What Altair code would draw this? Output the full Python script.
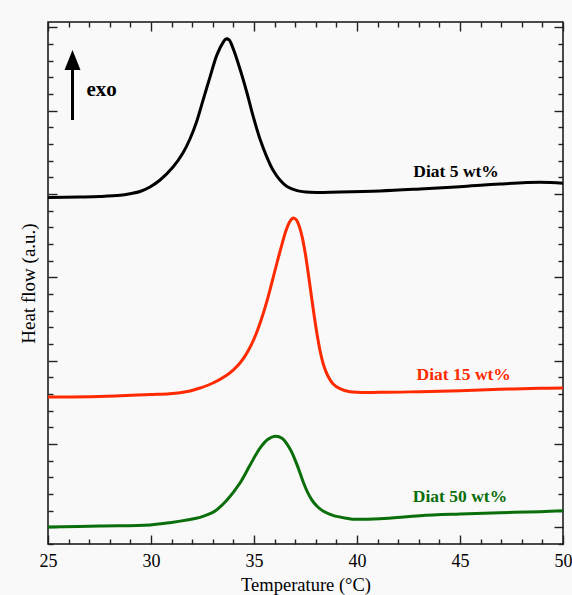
import altair as alt
import pandas as pd

# ---- data ----
temp_5 = [25.00, 26.50, 27.52, 28.50, 29.00, 29.47, 29.95, 30.44, 31.07, 31.55, 31.89, 32.23,
          32.52, 32.86, 33.20, 33.50, 33.64, 33.79, 33.98, 34.32, 34.66, 34.95, 35.29, 35.63,
          35.92, 36.26, 36.60, 37.09, 37.72, 39.17, 41.12, 43.06, 45.00, 46.94, 48.88, 50.00]
flow_5 = [19.79, 19.82, 19.85, 19.92, 20.02, 20.15, 20.42, 20.84, 21.62, 22.46, 23.30, 24.40,
          25.60, 27.00, 28.35, 29.10, 29.30, 29.25, 28.75, 27.50, 26.06, 24.70, 23.30, 22.20,
          21.44, 20.84, 20.45, 20.20, 20.10, 20.12, 20.18, 20.30, 20.44, 20.60, 20.70, 20.64]

temp_15 = [25.00, 27.52, 29.95, 30.90, 31.41, 31.90, 32.38, 33.01, 33.69, 34.00, 34.32, 34.60,
           34.85, 35.10, 35.35, 35.60, 35.85, 36.10, 36.35, 36.55, 36.72, 36.85, 36.92, 37.05,
           37.20, 37.35, 37.50, 37.65, 37.80, 37.95, 38.10, 38.25, 38.40, 38.60, 38.83, 39.17,
           39.66, 41.12, 43.06, 45.00, 46.94, 48.88, 50.00]
flow_15 = [7.82, 7.85, 7.97, 8.02, 8.08, 8.18, 8.36, 8.66, 9.14, 9.45, 9.86, 10.35,
           10.90, 11.60, 12.45, 13.45, 14.60, 15.80, 16.95, 17.80, 18.30, 18.52, 18.56, 18.45,
           18.05, 17.35, 16.35, 15.10, 13.75, 12.45, 11.30, 10.35, 9.65, 9.05, 8.62, 8.32,
           8.14, 8.10, 8.14, 8.20, 8.28, 8.34, 8.36]

temp_50 = [25.00, 27.52, 29.95, 30.92, 32.38, 32.75, 33.11, 33.69, 34.32, 34.81, 35.29, 35.68,
           36.02, 36.36, 36.75, 37.09, 37.38, 37.62, 37.86, 38.10, 38.35, 38.83, 39.51, 39.81,
           41.12, 43.06, 45.00, 46.94, 48.88, 50.00]
flow_50 = [0.02, 0.08, 0.14, 0.28, 0.60, 0.76, 0.98, 1.64, 2.66, 3.74, 4.75, 5.28,
           5.46, 5.34, 4.70, 3.75, 2.75, 2.05, 1.55, 1.22, 0.98, 0.72, 0.54, 0.49,
           0.52, 0.70, 0.80, 0.88, 0.94, 1.00]

series_names = ["Diat 5 wt%", "Diat 15 wt%", "Diat 50 wt%"]
series_colors = ["#000000", "#ff2a00", "#0a6e0a"]

label_temp = [44.81, 45.18, 45.00]
label_flow = [21.32, 9.14, 1.80]

exo_text = ["exo"]
exo_temp = [27.60]
exo_flow = [26.24]

arrow_temp = [26.19]
arrow_flow_start = [24.44]
arrow_flow_end = [27.44]
arrow_head_flow = [28.04]

x_ticks = list(range(25, 51))
x_labels = [25, 30, 35, 40, 45, 50]
y_ticks = list(range(-1, 31))

# ---- tables ----
rows = []
for name, ts, vs in zip(series_names, [temp_5, temp_15, temp_50], [flow_5, flow_15, flow_50]):
    for t, v in zip(ts, vs):
        rows.append({"series": name, "T": t, "v": v})
df = pd.DataFrame(rows)

df_labels = pd.DataFrame({"series": series_names, "T": label_temp, "v": label_flow})
df_exo = pd.DataFrame({"txt": exo_text, "T": exo_temp, "v": exo_flow})
df_arrow = pd.DataFrame({"T": arrow_temp, "v": arrow_flow_start, "v2": arrow_flow_end})
df_head = pd.DataFrame({"T": arrow_temp, "v": arrow_head_flow})

W, H = 515, 522
FONT = "Liberation Serif"

xs = alt.Scale(domain=[25, 50], nice=False, zero=False)
ys = alt.Scale(domain=[-1, 30.32], nice=False, zero=False)
cs = alt.Scale(domain=series_names, range=series_colors)

tick_size = {"condition": {"test": "datum.value % 5 === 0", "value": 9}, "value": 5}

def tick_axis(orient, offset, values):
    return alt.Axis(orient=orient, offset=offset, values=values, labels=False, domain=False,
                    grid=False, ticks=True, tickSize=tick_size, tickColor="#222222",
                    tickWidth=1.4, title=None)

lines = alt.Chart(df).mark_line(strokeWidth=3, interpolate="catmull-rom").encode(
    x=alt.X("T:Q", scale=xs, axis=alt.Axis(
        orient="bottom", values=x_labels, ticks=False, tickSize=0, domain=False, grid=False,
        labelFontSize=18, labelPadding=8, labelFlush=False, labelColor="black",
        title="Temperature (°C)", titleFontSize=18.5, titleFontWeight="normal",
        titlePadding=5, titleColor="black")),
    y=alt.Y("v:Q", scale=ys, axis=alt.Axis(
        orient="left", labels=False, ticks=False, domain=False, grid=False,
        title="Heat flow (a.u.)", titleFontSize=19, titleFontWeight="normal",
        titlePadding=10, titleColor="black")),
    color=alt.Color("series:N", scale=cs, legend=None),
    detail="series:N",
)

ticks_a = alt.Chart(df).mark_line(opacity=0).encode(
    x=alt.X("T:Q", scale=xs, axis=tick_axis("top", -H, x_ticks)),
    y=alt.Y("v:Q", scale=ys, axis=tick_axis("right", -W, y_ticks)),
    detail="series:N",
)
ticks_b = alt.Chart(df).mark_line(opacity=0).encode(
    x=alt.X("T:Q", scale=xs, axis=tick_axis("bottom", -H, x_ticks)),
    y=alt.Y("v:Q", scale=ys, axis=tick_axis("left", -W, y_ticks)),
    detail="series:N",
)

labels = alt.Chart(df_labels).mark_text(font=FONT, fontSize=17.5, fontWeight="bold").encode(
    x=alt.X("T:Q", scale=xs, axis=None),
    y=alt.Y("v:Q", scale=ys, axis=None),
    text="series:N",
    color=alt.Color("series:N", scale=cs, legend=None),
)

exo = alt.Chart(df_exo).mark_text(font=FONT, fontSize=21, fontWeight="bold", color="black").encode(
    x=alt.X("T:Q", scale=xs, axis=None),
    y=alt.Y("v:Q", scale=ys, axis=None),
    text="txt:N",
)

shaft = alt.Chart(df_arrow).mark_rule(strokeWidth=3, color="black").encode(
    x=alt.X("T:Q", scale=xs, axis=None),
    y=alt.Y("v:Q", scale=ys, axis=None),
    y2="v2:Q",
)

head = alt.Chart(df_head).mark_point(
    shape="M0,-1L0.8,1L-0.8,1Z", size=400, filled=True, color="black", opacity=1
).encode(
    x=alt.X("T:Q", scale=xs, axis=None),
    y=alt.Y("v:Q", scale=ys, axis=None),
)

chart = alt.layer(lines, ticks_a, ticks_b, labels, exo, shaft, head).resolve_axis(
    x="independent", y="independent"
).properties(
    width=W, height=H,
    autosize=alt.AutoSizeParams(type="none"),
    padding={"left": 48, "top": 22, "right": 9, "bottom": 51},
    background="#f9f9f9",
).configure_view(
    stroke="#111111", strokeWidth=1.5, fill="#f9f9f9"
).configure_axis(
    labelFont=FONT, titleFont=FONT
)

chart.save("out.html", embed_options={"renderer": "svg", "actions": False})
